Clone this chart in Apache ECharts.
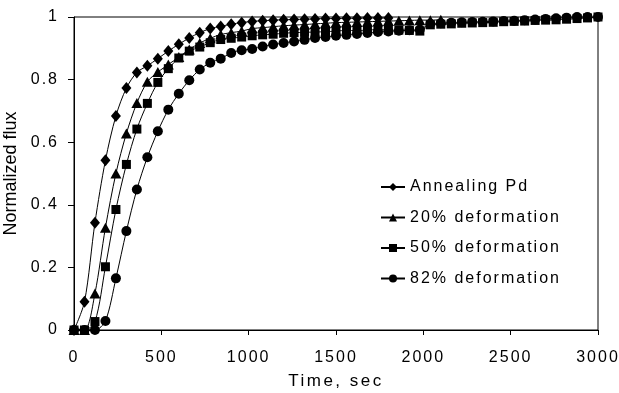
<!DOCTYPE html>
<html>
<head>
<meta charset="utf-8">
<title>Normalized flux vs time</title>
<script src="https://cdn.jsdelivr.net/npm/echarts@6/dist/echarts.min.js"></script>
<style>
  html, body { margin: 0; padding: 0; background: #fff; }
  #chart { width: 619px; height: 393px; }
</style>
</head>
<body>
<div id="chart"></div>
<script>
// Sampling times (s), one reading every 60 s
const timeSec = [
  0, 60, 120, 180, 240, 300, 360, 420, 480, 540,
  600, 660, 720, 780, 840, 900, 960, 1020, 1080, 1140,
  1200, 1260, 1320, 1380, 1440, 1500, 1560, 1620, 1680, 1740,
  1800, 1860, 1920, 1980, 2040, 2100, 2160, 2220, 2280, 2340,
  2400, 2460, 2520, 2580, 2640, 2700, 2760, 2820, 2880, 2940,
  3000
];

const seriesNames = ['Annealing Pd', '20% deformation', '50% deformation', '82% deformation'];

// Normalized permeation flux for each sample, starting at t = 0
const annealingPd = [
  0, 0.09, 0.343, 0.542, 0.684, 0.773, 0.823, 0.844, 0.867, 0.891,
  0.913, 0.933, 0.95, 0.963, 0.970, 0.977, 0.982, 0.986, 0.988, 0.990,
  0.991, 0.992, 0.993, 0.994, 0.995, 0.995, 0.996, 0.996, 0.997, 0.997,
  0.997
];
const deform20 = [
  0, 0, 0.117, 0.327, 0.5, 0.628, 0.725, 0.793, 0.824, 0.848,
  0.872, 0.896, 0.917, 0.932, 0.944, 0.95, 0.955, 0.963, 0.966, 0.969,
  0.972, 0.974, 0.976, 0.978, 0.98, 0.982, 0.983, 0.984, 0.985, 0.986,
  0.987, 0.988, 0.989, 0.99, 0.99, 0.991
];
const deform50 = [
  0, 0, 0.027, 0.202, 0.385, 0.529, 0.642, 0.724, 0.791, 0.835,
  0.869, 0.891, 0.904, 0.918, 0.928, 0.932, 0.936, 0.94, 0.943, 0.945,
  0.948, 0.95, 0.951, 0.952, 0.953, 0.955, 0.957, 0.957, 0.958, 0.96,
  0.958, 0.958, 0.957, 0.955, 0.975, 0.977, 0.978, 0.98, 0.981, 0.982,
  0.983, 0.985, 0.986, 0.987, 0.989, 0.99, 0.991, 0.993, 0.995, 0.997,
  1.0
];
const deform82 = [
  0, 0, 0, 0.029, 0.165, 0.316, 0.449, 0.552, 0.635, 0.704,
  0.755, 0.798, 0.832, 0.854, 0.867, 0.885, 0.894, 0.898, 0.906, 0.912,
  0.917, 0.922, 0.927, 0.933, 0.936, 0.94, 0.943, 0.946, 0.949, 0.952,
  0.954, 0.956, 0.958, 0.96, 0.978, 0.98, 0.982, 0.983, 0.984, 0.985,
  0.986, 0.987, 0.988, 0.99, 0.992, 0.994, 0.996, 0.998, 1.0, 1.0,
  1.0
];

const xTicks = { min: 0, max: 3000, step: 500 };
const yTicks = { min: 0, max: 1, step: 0.2 };

// Wide character tracking for the spaced labels (keyed by font pixel size)
const TRACKING = { 16: '2px', 17: '2.5px' };
['fillText', 'strokeText', 'measureText'].forEach(function (fn) {
  const orig = CanvasRenderingContext2D.prototype[fn];
  CanvasRenderingContext2D.prototype[fn] = function () {
    const m = /(\d+(?:\.\d+)?)px/.exec(this.font || '');
    const sp = m ? TRACKING[Math.round(+m[1])] : null;
    if ('letterSpacing' in this) this.letterSpacing = sp || '0px';
    return orig.apply(this, arguments);
  };
});

const FONT = '"Liberation Sans", Arial, sans-serif';

function pairs(values) {
  return values.map(function (v, i) { return [timeSec[i], v]; });
}

const markers = [
  { symbol: 'diamond', size: [10, 12] },
  { symbol: 'triangle', size: [11, 10] },
  { symbol: 'rect', size: [9, 9] },
  { symbol: 'circle', size: [10, 10] }
];
const allValues = [annealingPd, deform20, deform50, deform82];

const chart = echarts.init(document.getElementById('chart'), null, { renderer: 'canvas' });

chart.setOption({
  animation: false,
  backgroundColor: '#fff',
  grid: {
    left: 74, right: 21, top: 17, bottom: 63,
    outerBoundsMode: 'none',
    containLabel: false,
    show: true, borderColor: '#000', borderWidth: 1, backgroundColor: 'transparent'
  },
  legend: {
    orient: 'vertical',
    left: 375,
    top: 173,
    itemWidth: 24,
    itemHeight: 10,
    itemGap: 12.5,
    data: seriesNames,
    textStyle: { fontFamily: FONT, fontSize: 16, color: '#000' }
  },
  xAxis: {
    type: 'value',
    min: xTicks.min, max: xTicks.max, interval: xTicks.step,
    name: 'Time, sec',
    nameLocation: 'middle',
    nameGap: 39,
    nameTextStyle: { fontFamily: FONT, fontSize: 17, color: '#000' },
    axisLine: { lineStyle: { color: '#000', width: 1 } },
    axisTick: { show: true, inside: false, length: 5, lineStyle: { color: '#000' } },
    axisLabel: {
      fontFamily: FONT, fontSize: 16, color: '#000', margin: 19,
      formatter: function (v) { return String(v); }
    },
    splitLine: { show: false }
  },
  yAxis: {
    type: 'value',
    min: yTicks.min, max: yTicks.max, interval: yTicks.step,
    name: 'Normalized flux',
    nameLocation: 'middle',
    nameGap: 48,
    nameTextStyle: { fontFamily: FONT, fontSize: 18, color: '#000' },
    axisLine: { lineStyle: { color: '#000', width: 1 } },
    axisTick: { show: true, inside: false, length: 6, lineStyle: { color: '#000' } },
    axisLabel: {
      fontFamily: FONT, fontSize: 16, color: '#000', margin: 15,
      formatter: function (v) { return String(+v.toFixed(1)); }
    },
    splitLine: { show: false }
  },
  series: allValues.map(function (vals, k) {
    return {
      name: seriesNames[k],
      type: 'line',
      data: pairs(vals),
      symbol: markers[k].symbol,
      symbolSize: markers[k].size,
      showAllSymbol: true,
      smooth: 0.3,
      color: '#000',
      lineStyle: { color: '#000', width: 1 },
      itemStyle: { color: '#000' },
      emphasis: { disabled: true }
    };
  })
});
</script>
</body>
</html>
